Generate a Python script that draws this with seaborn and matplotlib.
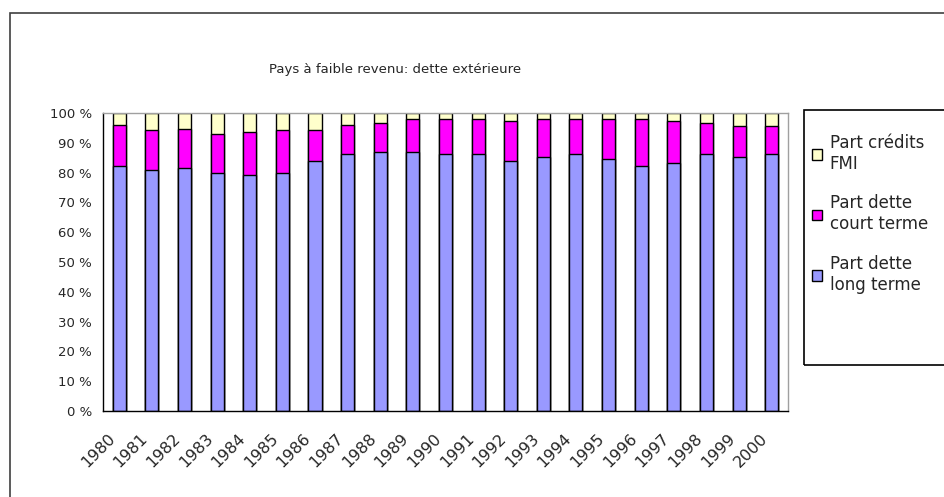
#!/usr/bin/env python3
import numpy as np
import pandas as pd
from matplotlib import pyplot as plt
from matplotlib.patches import Rectangle
from matplotlib.transforms import ScaledTranslation
import seaborn as sns

# (cumulative tops in %)
years = [str(y) for y in range(1980, 2001)]
long_term = [82.3, 80.9, 81.4, 80.0, 79.2, 80.0, 83.9, 86.1, 87.0, 86.8, 86.1,
             86.1, 83.9, 85.3, 86.1, 84.6, 82.3, 83.1, 86.1, 85.3, 86.1]
short_top = [96.0, 94.3, 94.5, 92.9, 93.5, 94.3, 94.3, 95.9, 96.5, 98.0, 98.0,
             98.0, 97.3, 98.0, 98.0, 98.0, 98.0, 97.3, 96.5, 95.7, 95.7]
short_term = [round(s - l, 1) for s, l in zip(short_top, long_term)]
fmi = [round(100 - s, 1) for s in short_top]

labels = ["Part crédits\nFMI", "Part dette\ncourt terme", "Part dette\nlong terme"]
colors = ["#FFFFCC", "#FF00FF", "#9999FF"]

df = pd.DataFrame({"year": years, "long": long_term, "court": short_term, "fmi": fmi})
df["top_court"] = df["long"] + df["court"]
df["top_fmi"] = df["top_court"] + df["fmi"]

sns.set_style("white")
plt.rcParams['font.family'] = ['DejaVu Sans']
plt.rcParams['font.size'] = 9

fig = plt.figure(figsize=(9.44, 4.97), dpi=100)
ax = fig.add_axes([0.1091, 0.1730, 0.7256, 0.5996])

for col, c, lab in zip(["top_fmi", "top_court", "long"], colors, labels):
    sns.barplot(data=df, x="year", y=col, color=c, width=0.4, edgecolor="black",
                linewidth=1, saturation=1, ax=ax, label=lab)

ax.set_ylim(0, 100)
ax.set_xlim(-0.5, len(years) - 0.5)
ax.set_yticks(np.arange(0, 101, 10))
ax.set_yticklabels([f"{v} %" for v in range(0, 101, 10)], fontsize=9.5)
ax.set_xlabel("")
ax.set_ylabel("")
ax.set_xticks(range(len(years)))
ax.set_xticklabels(years, rotation=45, ha="right", rotation_mode="anchor", fontsize=11.5)
ax.set_xticks(np.arange(-0.5, len(years), 1), minor=True)
ax.tick_params(axis="x", which="major", length=0, pad=14)
ax.tick_params(axis="x", which="minor", length=4, width=1, color="black", direction="out")
ax.tick_params(axis="y", length=5, width=1, color="black", direction="out", pad=3)
shift = ScaledTranslation(-12 / 100, 0, fig.dpi_scale_trans)
for t in ax.get_xticklabels():
    t.set_transform(t.get_transform() + shift)
for s in ["left", "bottom"]:
    ax.spines[s].set_color("black")
    ax.spines[s].set_linewidth(1)
for s in ["top", "right"]:
    ax.spines[s].set_color("#A0A0A0")
    ax.spines[s].set_linewidth(1)
ax.grid(False)

handles, labs = ax.get_legend_handles_labels()
if ax.legend_:
    ax.legend_.remove()
leg = fig.legend(handles, labs, loc="upper left", bbox_to_anchor=(812 / 944, 1 - 134 / 497),
                 frameon=False, fontsize=12, labelspacing=1.3, handlelength=0.6,
                 handleheight=0.6, handletextpad=0.45, borderpad=0, borderaxespad=0)

# legend frame running past the right edge, like the reference
fig.patches.append(Rectangle((804 / 944, 1 - 365 / 497), 0.3, 255 / 497, transform=fig.transFigure,
                             fill=False, edgecolor="black", linewidth=1.2))

fig.text(395 / 944, 1 - 70 / 497, "Pays à faible revenu: dette extérieure",
         ha="center", va="center", fontsize=9.5)

fig.patches.append(Rectangle((10 / 944, -0.1), 1.2, 1 - 13 / 497 + 0.1, transform=fig.transFigure,
                             fill=False, edgecolor="#404040", linewidth=1.2))

plt.savefig("out.png", dpi=100)
